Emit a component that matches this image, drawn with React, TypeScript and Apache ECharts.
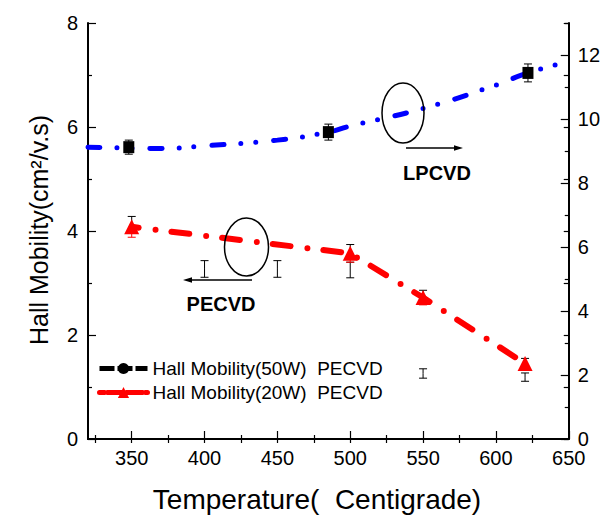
import React, { useEffect, useRef } from "react";
import * as echarts from "echarts";

// ---- data ----
// LPCVD fit curve (right axis units)
const lpFitX = [320, 350, 370, 400, 450, 485, 500, 550, 600, 622, 650];
const lpFitY = [9.12, 9.09, 9.08, 9.16, 9.34, 9.59, 9.78, 10.33, 11.06, 11.44, 11.79];
// LPCVD measured points (right axis units)
const lpX = [348, 485, 622];
const lpY = [9.12, 9.59, 11.44];
const lpErr = [0.22, 0.25, 0.28];
// Hall Mobility(20W) PECVD (left axis)
const p20X = [350, 500, 550, 620];
const p20Y = [4.08, 3.57, 2.72, 1.45];
const p20Err = [0.2, 0.17, 0.14, 0.1];
// Hall Mobility(50W) PECVD (left axis) – only error bars visible
const p50X = [400, 450, 500, 550, 620];
const p50Y = [3.27, 3.27, 3.25, 1.26, 1.19];
const p50Err = [0.16, 0.16, 0.15, 0.09, 0.08];

const xLabels = [350, 400, 450, 500, 550, 600, 650];
const xMinorTicks = [325, 375, 425, 475, 525, 575, 625];
const xTopTicks = [325, 350, 375, 400, 425, 450, 475, 500, 525, 550, 575, 600, 625];
const rightLabels = [0, 2, 4, 6, 8, 10, 12];
const rightMinor = [1, 3, 5, 7, 9, 11, 13];
const leftScaleTicks = [0, 1, 2, 3, 4, 5, 6, 7, 8];

const NAME_50 = "Hall Mobility(50W)  PECVD";
const NAME_20 = "Hall Mobility(20W)  PECVD";
const FONT = "Arial, 'Liberation Sans', sans-serif";

function zip(...arrs: number[][]) {
  return arrs[0].map((_, i) => arrs.map((a) => a[i]));
}

function errorBars(yAxisIndex: number, data: number[][], topColor: string, botColor: string, z: number) {
  return {
    type: "custom",
    xAxisIndex: 0,
    yAxisIndex,
    z,
    silent: true,
    data,
    renderItem: (params: any, api: any) => {
      const x = api.value(0);
      const y = api.value(1);
      const e = api.value(2);
      const top = api.coord([x, y + e]);
      const mid = api.coord([x, y]);
      const bot = api.coord([x, y - e]);
      const hw = 4;
      const s1 = { stroke: topColor, lineWidth: 1 };
      const s2 = { stroke: botColor, lineWidth: 1 };
      return {
        type: "group",
        children: [
          { type: "line", shape: { x1: top[0], y1: top[1], x2: mid[0], y2: mid[1] }, style: s1 },
          { type: "line", shape: { x1: mid[0], y1: mid[1], x2: bot[0], y2: bot[1] }, style: s2 },
          { type: "line", shape: { x1: top[0] - hw, y1: top[1], x2: top[0] + hw, y2: top[1] }, style: s1 },
          { type: "line", shape: { x1: bot[0] - hw, y1: bot[1], x2: bot[0] + hw, y2: bot[1] }, style: s2 },
        ],
      };
    },
  };
}

export default function App() {
  const ref = useRef<HTMLDivElement>(null);
  useEffect(() => {
    if (!ref.current) return;
    const chart = echarts.init(ref.current, null, { renderer: "svg" });
    const axisLine = { show: true, lineStyle: { color: "#000", width: 2 } };
    const tick = (vals: number[], len: number) => ({
      show: true,
      inside: true,
      length: len,
      customValues: vals,
      lineStyle: { color: "#000", width: 1.2 },
    });
    const option: any = {
      animation: false,
      backgroundColor: "#fff",
      textStyle: { fontFamily: FONT },
      grid: { left: 88, right: 34, top: 23, bottom: 78, containLabel: false },
      legend: {
        data: [
          { name: NAME_50, lineStyle: { width: 5, type: [15, 3], color: "#000" } },
          { name: NAME_20, lineStyle: { width: 5, type: [16, 3], color: "#ff0000" } },
        ],
        orient: "vertical",
        left: 92,
        top: 354,
        itemWidth: 48,
        itemHeight: 14,
        itemGap: 5,
        textStyle: { fontSize: 19, color: "#000", fontFamily: FONT },
        selectedMode: false,
      },
      xAxis: [
        {
          type: "value",
          position: "bottom",
          min: 320,
          max: 650,
          axisLine,
          axisTick: tick(xLabels, 8),
          axisLabel: { customValues: xLabels, fontSize: 20, color: "#000", margin: 9, fontFamily: FONT },
          splitLine: { show: false },
        },
        {
          type: "value",
          position: "bottom",
          min: 320,
          max: 650,
          axisLine: { show: false },
          axisTick: tick(xMinorTicks, 4),
          axisLabel: { show: false },
          splitLine: { show: false },
        },
        {
          type: "value",
          position: "top",
          min: 320,
          max: 650,
          axisLine,
          axisTick: tick(xTopTicks, 4),
          axisLabel: { show: false },
          splitLine: { show: false },
        },
      ],
      yAxis: [
        {
          type: "value",
          position: "left",
          min: 0,
          max: 8,
          interval: 2,
          axisLine,
          axisTick: { show: true, inside: true, length: 8, lineStyle: { color: "#000", width: 1.2 } },
          minorTick: { show: true, splitNumber: 2, length: 4, lineStyle: { color: "#000", width: 1.2 } },
          axisLabel: { fontSize: 20, color: "#000", margin: 10, fontFamily: FONT },
          splitLine: { show: false },
        },
        {
          type: "value",
          position: "right",
          min: 0,
          max: 13,
          interval: 1,
          axisLine,
          axisTick: tick(rightLabels, 8),
          axisLabel: { customValues: rightLabels, fontSize: 20, color: "#000", margin: 9, fontFamily: FONT },
          splitLine: { show: false },
        },
        {
          type: "value",
          position: "right",
          min: 0,
          max: 13,
          interval: 1,
          axisLine: { show: false },
          axisTick: tick(rightMinor, 4),
          axisLabel: { show: false },
          splitLine: { show: false },
        },
        {
          type: "value",
          position: "right",
          min: 0,
          max: 8,
          interval: 1,
          axisLine: { show: false },
          axisTick: tick(leftScaleTicks, 5),
          axisLabel: { show: false },
          splitLine: { show: false },
        },
      ],
      series: [
        {
          name: "LPCVD fit",
          type: "line",
          yAxisIndex: 1,
          data: zip(lpFitX, lpFitY),
          smooth: true,
          showSymbol: false,
          symbol: "none",
          z: 3,
          lineStyle: { color: "#0000ff", width: 5, type: [12, 17, 0, 15, 0, 18], cap: "round" },
        },
        errorBars(1, zip(lpX, lpY, lpErr), "#000", "#000", 4),
        {
          name: "LPCVD",
          type: "scatter",
          yAxisIndex: 1,
          data: zip(lpX, lpY),
          symbol: "rect",
          symbolSize: [11, 12],
          itemStyle: { color: "#000", opacity: 1 },
          z: 5,
        },
        errorBars(0, zip(p50X, p50Y, p50Err), "#000", "#000", 4),
        {
          name: NAME_50,
          type: "line",
          yAxisIndex: 0,
          data: [],
          symbol: "circle",
          symbolSize: 11,
          itemStyle: { color: "#000" },
          lineStyle: { color: "#000", width: 5, type: [15, 3] },
        },
        errorBars(0, zip(p20X, p20Y, p20Err), "#000", "#ff0000", 4),
        {
          name: NAME_20,
          type: "line",
          yAxisIndex: 0,
          data: zip(p20X, p20Y),
          symbol: "triangle",
          symbolSize: 15,
          showAllSymbol: true,
          itemStyle: { color: "#ff0000" },
          lineStyle: { color: "#ff0000", width: 6, type: [18, 17, 0, 16], cap: "round", dashOffset: 11 },
          z: 5,
        },
      ],
      graphic: [
        { type: "ellipse", shape: { cx: 403, cy: 113, rx: 21, ry: 30 }, style: { fill: "none", stroke: "#000", lineWidth: 1.5 }, z: 100 },
        { type: "line", shape: { x1: 406, y1: 148, x2: 456, y2: 148 }, style: { stroke: "#000", lineWidth: 1.5 }, z: 100 },
        { type: "polygon", shape: { points: [[463, 148], [454, 145.3], [454, 150.7]] }, style: { fill: "#000" }, z: 100 },
        {
          type: "text",
          x: 437,
          y: 173,
          z: 100,
          style: { text: "LPCVD", fontSize: 20, fontWeight: "bold", fontFamily: FONT, fill: "#000", align: "center", verticalAlign: "middle" },
        },
        { type: "ellipse", shape: { cx: 246.5, cy: 247, rx: 22, ry: 29 }, style: { fill: "none", stroke: "#000", lineWidth: 1.5 }, z: 100 },
        { type: "line", shape: { x1: 252, y1: 280, x2: 191, y2: 280 }, style: { stroke: "#000", lineWidth: 1.5 }, z: 100 },
        { type: "polygon", shape: { points: [[183, 280], [192, 277.3], [192, 282.7]] }, style: { fill: "#000" }, z: 100 },
        {
          type: "text",
          x: 221,
          y: 304,
          z: 100,
          style: { text: "PECVD", fontSize: 20, fontWeight: "bold", fontFamily: FONT, fill: "#000", align: "center", verticalAlign: "middle" },
        },
        {
          type: "text",
          x: 317,
          y: 499,
          z: 100,
          style: { text: "Temperature(  Centigrade)", fontSize: 28, fontFamily: FONT, fill: "#000", align: "center", verticalAlign: "middle" },
        },
        {
          type: "text",
          x: 39,
          y: 230,
          rotation: Math.PI / 2,
          z: 100,
          style: { text: "Hall Mobility(cm²/v.s)", fontSize: 25, fontFamily: FONT, fill: "#000", align: "center", verticalAlign: "middle" },
        },
      ],
    };
    chart.setOption(option);
    return () => chart.dispose();
  }, []);
  return <div ref={ref} style={{ position: "fixed", left: 0, top: 0, width: 603, height: 517 }} />;
}
